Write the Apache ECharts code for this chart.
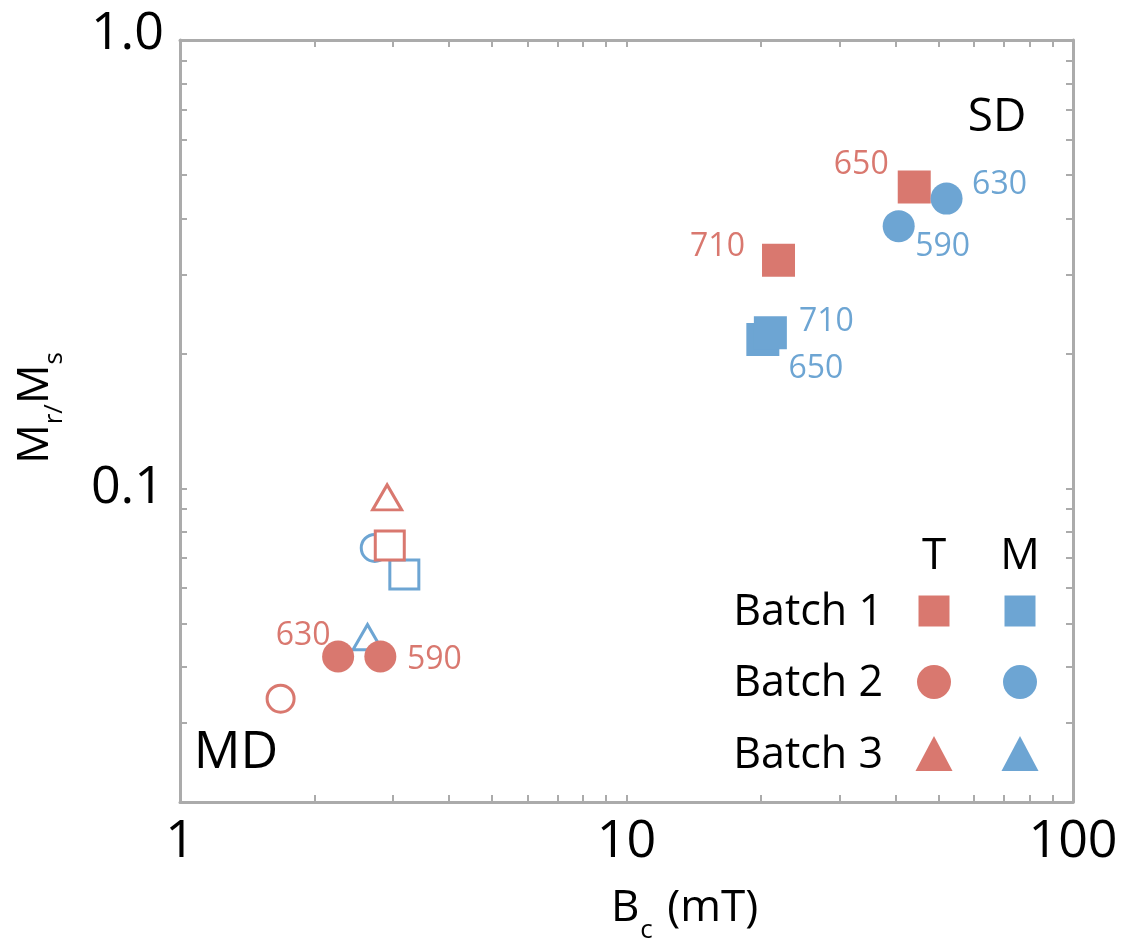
<!DOCTYPE html>
<html><head><meta charset="utf-8">
<script src="https://cdn.jsdelivr.net/npm/echarts@6/dist/echarts.min.js"></script>
<style>html,body{margin:0;padding:0;background:#fff}#c{width:1129px;height:944px}</style>
</head><body><div id="c"></div>
<script>
// ---------------- data ----------------
const xTickValues = [2,3,4,5,6,7,8,9,10,20,30,40,50,60,70,80,90];
const xLabelValues = [1, 10, 100];
const xLabelTexts = ['1', '10', '100'];
const yTickValues = [0.03,0.04,0.05,0.06,0.07,0.08,0.09,0.1,0.2,0.3,0.4,0.5,0.6,0.7,0.8,0.9];
const yLabelValues = [0.1, 1];
const yLabelTexts = ['0.1', '1.0'];

// T = red, M = blue ; filled = 1, open = 0
const tBatch1X = [44.1, 21.9, 2.95];
const tBatch1Y = [0.470, 0.323, 0.0746];
const tBatch1Filled = [1, 1, 0];
const tBatch1Labels = ['650', '710', ''];

const tBatch2X = [2.26, 2.81, 1.68];
const tBatch2Y = [0.0422, 0.0422, 0.0340];
const tBatch2Filled = [1, 1, 0];
const tBatch2Labels = ['630', '590', ''];

const tBatch3X = [2.91];
const tBatch3Y = [0.0956];
const tBatch3Filled = [0];
const tBatch3Labels = [''];

const mBatch1X = [20.2, 21.0, 3.18];
const mBatch1Y = [0.215, 0.2225, 0.0643];
const mBatch1Filled = [1, 1, 0];
const mBatch1Labels = ['650', '710', ''];

const mBatch2X = [52.1, 40.7, 2.73];
const mBatch2Y = [0.443, 0.3845, 0.0737];
const mBatch2Filled = [1, 1, 0];
const mBatch2Labels = ['630', '590', ''];

const mBatch3X = [2.63];
const mBatch3Y = [0.0466];
const mBatch3Filled = [0];
const mBatch3Labels = [''];

// ---------------- styles ----------------
const RED = '#D9786F';
const BLUE = '#6DA5D3';
const FONT = '"Open Sans", "Noto Sans", sans-serif';
const AXIS_GRAY = '#ABABAB';

const labelOffsets = {
  tB1: [[-53, -22], [-61, -13], null],
  tB2: [[-35, -21], [54, 3], null],
  tB3: [null],
  mB1: [[53, 29], [56, -11], null],
  mB2: [[53, -14], [44, 21], null],
  mB3: [null]
};

const groups = [
  {key: 'tB1', name: 'T Batch 1', x: tBatch1X, y: tBatch1Y, f: tBatch1Filled, l: tBatch1Labels, color: RED, shape: 'rect', col: 'T'},
  {key: 'tB2', name: 'T Batch 2', x: tBatch2X, y: tBatch2Y, f: tBatch2Filled, l: tBatch2Labels, color: RED, shape: 'circle', col: 'T'},
  {key: 'tB3', name: 'T Batch 3', x: tBatch3X, y: tBatch3Y, f: tBatch3Filled, l: tBatch3Labels, color: RED, shape: 'triangle', col: 'T'},
  {key: 'mB1', name: 'M Batch 1', x: mBatch1X, y: mBatch1Y, f: mBatch1Filled, l: mBatch1Labels, color: BLUE, shape: 'rect', col: 'M'},
  {key: 'mB2', name: 'M Batch 2', x: mBatch2X, y: mBatch2Y, f: mBatch2Filled, l: mBatch2Labels, color: BLUE, shape: 'circle', col: 'M'},
  {key: 'mB3', name: 'M Batch 3', x: mBatch3X, y: mBatch3Y, f: mBatch3Filled, l: mBatch3Labels, color: BLUE, shape: 'triangle', col: 'M'}
];

const filledSize = {rect: 33, circle: 32, triangle: [34, 31]};
const openSize = {rect: 29, circle: 27, triangle: [29, 25]};

function buildSeries(g, filled) {
  const data = [];
  g.x.forEach((xv, i) => {
    if (!!g.f[i] !== filled) return;
    const off = labelOffsets[g.key][i];
    data.push({
      value: [xv, g.y[i]],
      name: g.l[i],
      label: {show: !!g.l[i], offset: off || [0, 0]}
    });
  });
  return {
    type: 'scatter',
    name: g.name + (filled ? '' : ' (open)'),
    xAxisIndex: 0, yAxisIndex: 0,
    symbol: g.shape,
    symbolSize: filled ? filledSize[g.shape] : openSize[g.shape],
    itemStyle: filled ? {color: g.color, opacity: 1}
                      : {color: '#fff', borderColor: g.color, borderWidth: 3, opacity: 1},
    label: {
      show: false, position: 'inside', formatter: '{b}',
      color: g.color, fontSize: 32, fontFamily: FONT
    },
    emphasis: {disabled: true},
    data: data
  };
}

const series = [];
groups.filter(g => g.col === 'M').forEach(g => series.push(buildSeries(g, false)));
groups.filter(g => g.col === 'T').forEach(g => series.push(buildSeries(g, false)));
groups.filter(g => g.col === 'T').forEach(g => series.push(buildSeries(g, true)));
groups.filter(g => g.col === 'M').forEach(g => series.push(buildSeries(g, true)));

function logAxisX(pos, showLabels) {
  return {
    type: 'log', logBase: 10, min: 1, max: 100, position: pos,
    axisLine: {show: true, onZero: false, lineStyle: {color: AXIS_GRAY, width: 3}},
    axisTick: {show: true, inside: true, length: 7, customValues: xTickValues,
               lineStyle: {color: AXIS_GRAY, width: 2}},
    axisLabel: {show: showLabels, customValues: xLabelValues,
                formatter: v => xLabelTexts[xLabelValues.indexOf(v)] ?? String(v),
                color: '#000', fontSize: 52, fontFamily: FONT, margin: 14},
    splitLine: {show: false}
  };
}
function logAxisY(pos, showLabels) {
  return {
    type: 'log', logBase: 10, min: 0.02, max: 1, position: pos,
    axisLine: {show: true, onZero: false, lineStyle: {color: AXIS_GRAY, width: 3}},
    axisTick: {show: true, inside: true, length: 7, customValues: yTickValues,
               lineStyle: {color: AXIS_GRAY, width: 2}},
    axisLabel: {show: showLabels, customValues: yLabelValues,
                formatter: v => {
                  const t = yLabelTexts[yLabelValues.indexOf(v)] ?? String(v);
                  return v === 1 ? '{u|' + t + '}' : t;
                },
                rich: {u: {fontSize: 52, fontFamily: FONT, color: '#000', padding: [0, 0, 12, 0]}},
                color: '#000', fontSize: 52, fontFamily: FONT, margin: 16},
    splitLine: {show: false}
  };
}

const xMain = logAxisX('bottom', true);
xMain.name = '{n|B}{s|c}{n| (mT)}';
xMain.nameLocation = 'middle';
xMain.nameGap = 70;
xMain.nameTextStyle = {padding: [0, 0, 0, 116], rich: {
  n: {fontSize: 44, fontFamily: FONT, color: '#000'},
  s: {fontSize: 26, fontFamily: FONT, color: '#000', padding: [46, 3, 0, 1]}
}};

const yMain = logAxisY('left', true);
yMain.name = '{n|M}{s|r/}{n|M}{s|s}';
yMain.nameLocation = 'middle';
yMain.nameRotate = 90;
yMain.nameGap = 112;
yMain.nameTextStyle = {padding: [0, 0, 0, 26], rich: {
  n: {fontSize: 44, fontFamily: FONT, color: '#000'},
  s: {fontSize: 26, fontFamily: FONT, color: '#000', padding: [40, 0, 0, 0]}
}};

// legend (graphic)
const legendRows = ['Batch 1', 'Batch 2', 'Batch 3'];
const legendCols = ['T', 'M'];
const legendShapes = ['rect', 'circle', 'triangle'];
const legendColors = [RED, BLUE];

const graphic = [];
const colX = [934, 1020];
const rowY = [611, 682, 754];
legendCols.forEach((c, j) => {
  graphic.push({type: 'text', x: colX[j], y: 556, style: {text: c, fill: '#000', font: '44px ' + FONT, align: 'center', verticalAlign: 'middle'}});
});
legendRows.forEach((r, i) => {
  graphic.push({type: 'text', x: 883, y: rowY[i] + 2, style: {text: r, fill: '#000', font: '43px ' + FONT, align: 'right', verticalAlign: 'middle'}});
  legendColors.forEach((col, j) => {
    const cx = colX[j], cy = rowY[i];
    if (legendShapes[i] === 'rect') {
      graphic.push({type: 'rect', shape: {x: cx - 15.5, y: cy - 15.5, width: 31, height: 31}, style: {fill: col}});
    } else if (legendShapes[i] === 'circle') {
      graphic.push({type: 'circle', shape: {cx: cx, cy: cy, r: 17}, style: {fill: col}});
    } else {
      graphic.push({type: 'polygon', shape: {points: [[cx, cy - 18], [cx + 18.5, cy + 17], [cx - 18.5, cy + 17]]}, style: {fill: col}});
    }
  });
});
graphic.push({type: 'text', x: 997, y: 118, style: {text: 'SD', fill: '#000', font: '46px ' + FONT, align: 'center', verticalAlign: 'middle'}});
graphic.push({type: 'text', x: 236, y: 753, style: {text: 'MD', fill: '#000', font: '52px ' + FONT, align: 'center', verticalAlign: 'middle'}});

const chart = echarts.init(document.getElementById('c'), null, {renderer: 'canvas'});
chart.setOption({
  backgroundColor: '#fff',
  animation: false,
  grid: {left: 180, top: 40, right: 56, bottom: 142, containLabel: false, outerBoundsMode: 'none'},
  xAxis: [xMain, logAxisX('top', false)],
  yAxis: [yMain, logAxisY('right', false)],
  series: series,
  graphic: graphic
});
</script>
</body></html>
